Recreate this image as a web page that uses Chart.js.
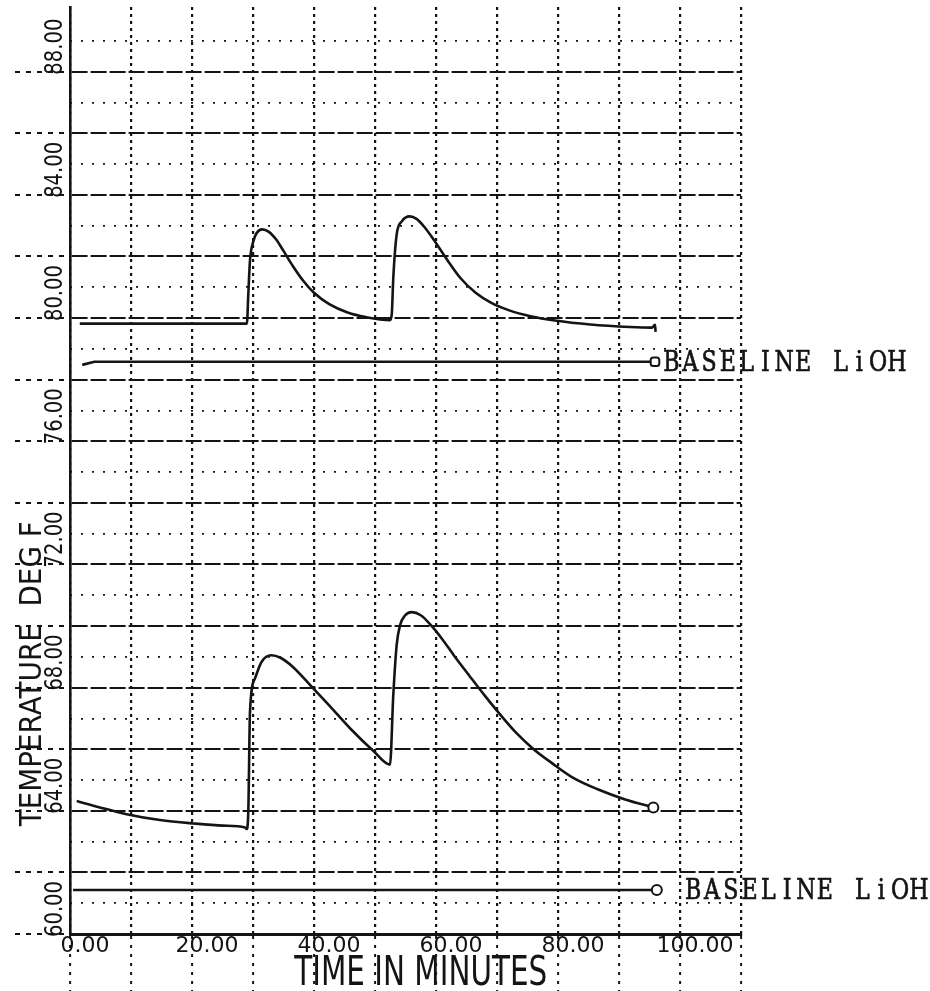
<!DOCTYPE html>
<html>
<head>
<meta charset="utf-8">
<script src="https://cdn.jsdelivr.net/npm/chart.js@4"></script>
<style>
  body { margin: 0; background: #fff; }
  canvas { display: block; }
</style>
</head>
<body>
<canvas id="plot" width="930" height="991"></canvas>
<script>
// time in minutes / temperature in deg F
const topTime = [1.6, 15, 29.0, 29.23, 29.5, 30.05, 30.6, 31.5, 32.6, 33.8, 35.0, 36.5, 38.2, 40.0, 42.5, 45.5, 48.5, 52.45, 52.75, 53.0, 53.55, 54.4, 55.7, 56.8, 58.0, 59.6, 61.8, 64.0, 66.5, 69.0, 72.0, 75.5, 79.5, 85.3, 91.8, 95.4, 95.9, 96.0];
const topTemp = [79.82, 79.82, 79.82, 80.77, 81.85, 82.49, 82.76, 82.88, 82.80, 82.55, 82.18, 81.70, 81.22, 80.82, 80.45, 80.18, 80.03, 79.93, 80.13, 81.31, 82.71, 83.14, 83.30, 83.22, 82.98, 82.55, 81.90, 81.30, 80.82, 80.50, 80.25, 80.06, 79.92, 79.79, 79.71, 79.69, 79.78, 79.55];

const lowTime = [1.1, 4.9, 9.3, 14.75, 20.2, 25.1, 28.7, 28.96, 29.23, 29.51, 30.33, 31.42, 33.0, 34.5, 36.5, 39.3, 42.6, 45.9, 49.7, 52.46, 53.0, 53.55, 54.1, 54.92, 56.0, 57.5, 59.2, 61.0, 63.0, 65.5, 68.0, 70.5, 73.2, 76.0, 79.0, 82.5, 86.5, 91.0, 95.63];
const lowTemp = [64.32, 64.11, 63.89, 63.70, 63.59, 63.52, 63.46, 63.41, 63.99, 67.23, 68.30, 68.84, 69.05, 68.97, 68.68, 68.10, 67.40, 66.68, 65.95, 65.50, 67.76, 69.38, 70.02, 70.34, 70.45, 70.35, 70.02, 69.58, 69.03, 68.38, 67.74, 67.13, 66.52, 66.00, 65.55, 65.07, 64.70, 64.37, 64.11];

const upperBaseTime = [2.0, 4.0, 95.9];
const upperBaseTemp = [78.48, 78.58, 78.58];
const lowerBaseTime = [0.5, 96.2];
const lowerBaseTemp = [61.43, 61.43];

const baselineLabel = "BASELINE LiOH";
const xTitle = "TIME IN MINUTES";
const yTitle = "TEMPERATURE  DEG F";

const xGridValues = [0, 10, 20, 30, 40, 50, 60, 70, 80, 90, 100, 110];
const xLabelValues = [0, 20, 40, 60, 80, 100];
const yMajorValues = [60, 62, 64, 66, 68, 70, 72, 74, 76, 78, 80, 82, 84, 86, 88];
const yMinorValues = [61, 63, 65, 67, 69, 71, 73, 75, 77, 79, 81, 83, 85, 87, 89];
const yLabelValues = [60, 64, 68, 72, 76, 80, 84, 88];

const pairs = (xs, ys) => xs.map((x, i) => ({ x: x, y: ys[i] }));
const ink = "#141414";
const endOnly = style => ctx => ctx.dataIndex === ctx.dataset.data.length - 1 ? style : 0;

// draw text squeezed/stretched to a given length, optionally rotated
function fitText(ctx, text, x, y, len, font, rotate) {
    ctx.save();
    ctx.font = font;
    const w = ctx.measureText(text).width;
    ctx.translate(x, y);
    if (rotate) ctx.rotate(-Math.PI / 2);
    ctx.scale(len / w, 1);
    ctx.fillText(text, 0, 0);
    ctx.restore();
}

// typewriter look: one character per fixed cell
function typeText(ctx, text, x, y, cell) {
    ctx.save();
    ctx.textAlign = "center";
    ctx.font = '27px "DejaVu Serif"';
    ctx.strokeStyle = ink;
    ctx.lineWidth = 0.7;
    [...text].forEach((ch, i) => {
        ctx.save();
        ctx.translate(x + cell * (i + 0.5), y);
        ctx.scale(0.82, 1);
        ctx.fillText(ch, 0, 0);
        ctx.strokeText(ch, 0, 0);
        ctx.restore();
    });
    ctx.restore();
}

const plotText = {
    id: "plotText",
    afterDraw(chart) {
        const { ctx, scales: { x, y } } = chart;
        ctx.save();
        ctx.fillStyle = ink;
        ctx.textBaseline = "alphabetic";
        // y tick labels, rotated, starting just under the tick
        ctx.textAlign = "left";
        yLabelValues.forEach(v => {
            fitText(ctx, v.toFixed(2), 62, y.getPixelForValue(v) + 3, 56, '24px "DejaVu Sans"', true);
        });
        // axis titles
        ctx.textAlign = "center";
        fitText(ctx, yTitle, 41, y.getPixelForValue(68.45), 305, '30px "DejaVu Sans"', true);
        fitText(ctx, xTitle, x.getPixelForValue(57.5), 985, 253, '41px "DejaVu Sans"', false);
        // baseline tags
        chart.data.datasets.forEach((ds, i) => {
            if (!ds.tag) return;
            const pts = chart.getDatasetMeta(i).data;
            const p = pts[pts.length - 1];
            typeText(ctx, ds.tag, p.x + ds.tagGap, p.y + 9, 18.8);
        });
        ctx.restore();
    }
};

new Chart("plot", {
    type: "line",
    data: {
        datasets: [
            {
                data: pairs(topTime, topTemp),
                borderColor: ink,
                borderWidth: 2.6,
                cubicInterpolationMode: "monotone",
                pointRadius: 0
            },
            {
                data: pairs(lowTime, lowTemp),
                borderColor: ink,
                borderWidth: 2.6,
                cubicInterpolationMode: "monotone",
                pointRadius: endOnly(5),
                pointStyle: "circle",
                pointBackgroundColor: "#fff",
                pointBorderColor: ink,
                pointBorderWidth: 2
            },
            {
                data: pairs(upperBaseTime, upperBaseTemp),
                borderColor: ink,
                borderWidth: 2.6,
                tension: 0,
                pointRadius: endOnly(5),
                pointStyle: "rectRounded",
                pointBackgroundColor: "#fff",
                pointBorderColor: ink,
                pointBorderWidth: 2,
                tag: baselineLabel,
                tagGap: 7
            },
            {
                data: pairs(lowerBaseTime, lowerBaseTemp),
                borderColor: ink,
                borderWidth: 2.6,
                tension: 0,
                pointRadius: endOnly(5),
                pointStyle: "circle",
                pointBackgroundColor: "#fff",
                pointBorderColor: ink,
                pointBorderWidth: 2,
                tag: baselineLabel,
                tagGap: 27
            }
        ]
    },
    options: {
        responsive: false,
        devicePixelRatio: 1,
        animation: false,
        layout: { padding: { top: 1, right: 189, left: 0, bottom: 0 } },
        plugins: { legend: { display: false }, tooltip: { enabled: false } },
        scales: {
            x: {
                type: "linear",
                position: "bottom",
                min: 0,
                max: 110,
                afterBuildTicks: s => { s.ticks = xGridValues.map(v => ({ value: v })); },
                afterFit: s => { s.height = 57; },
                grid: {
                    color: ink,
                    lineWidth: 2.2,
                    tickLength: 57,
                    tickColor: ink,
                    tickWidth: 2,
                    tickBorderDash: [3, 6]
                },
                border: { color: ink, width: 3, dash: [3, 4] },
                ticks: {
                    autoSkip: false,
                    maxRotation: 0,
                    labelOffset: 15,
                    padding: -58,
                    color: ink,
                    font: { family: "DejaVu Sans", size: 22 },
                    callback: v => xLabelValues.includes(v) ? v.toFixed(2) : ""
                }
            },
            y: {
                type: "linear",
                position: "left",
                min: 60,
                max: 90.1,
                afterBuildTicks: s => { s.ticks = yMajorValues.map(v => ({ value: v })); },
                afterFit: s => { s.width = 70; },
                grid: {
                    color: ink,
                    lineWidth: 2,
                    tickLength: 55,
                    tickColor: ink,
                    tickWidth: 1.8,
                    tickBorderDash: [5, 6]
                },
                border: { color: ink, width: 2.6, dash: [16, 3] },
                ticks: { display: false }
            },
            y2: {
                type: "linear",
                position: "right",
                min: 60,
                max: 90.1,
                afterBuildTicks: s => { s.ticks = yMinorValues.map(v => ({ value: v })); },
                afterFit: s => { s.width = 0; },
                grid: { color: ink, lineWidth: 1.8, drawTicks: false },
                border: { display: false, dash: [2, 9] },
                ticks: { display: false }
            }
        }
    },
    plugins: [plotText]
});
</script>
</body>
</html>
